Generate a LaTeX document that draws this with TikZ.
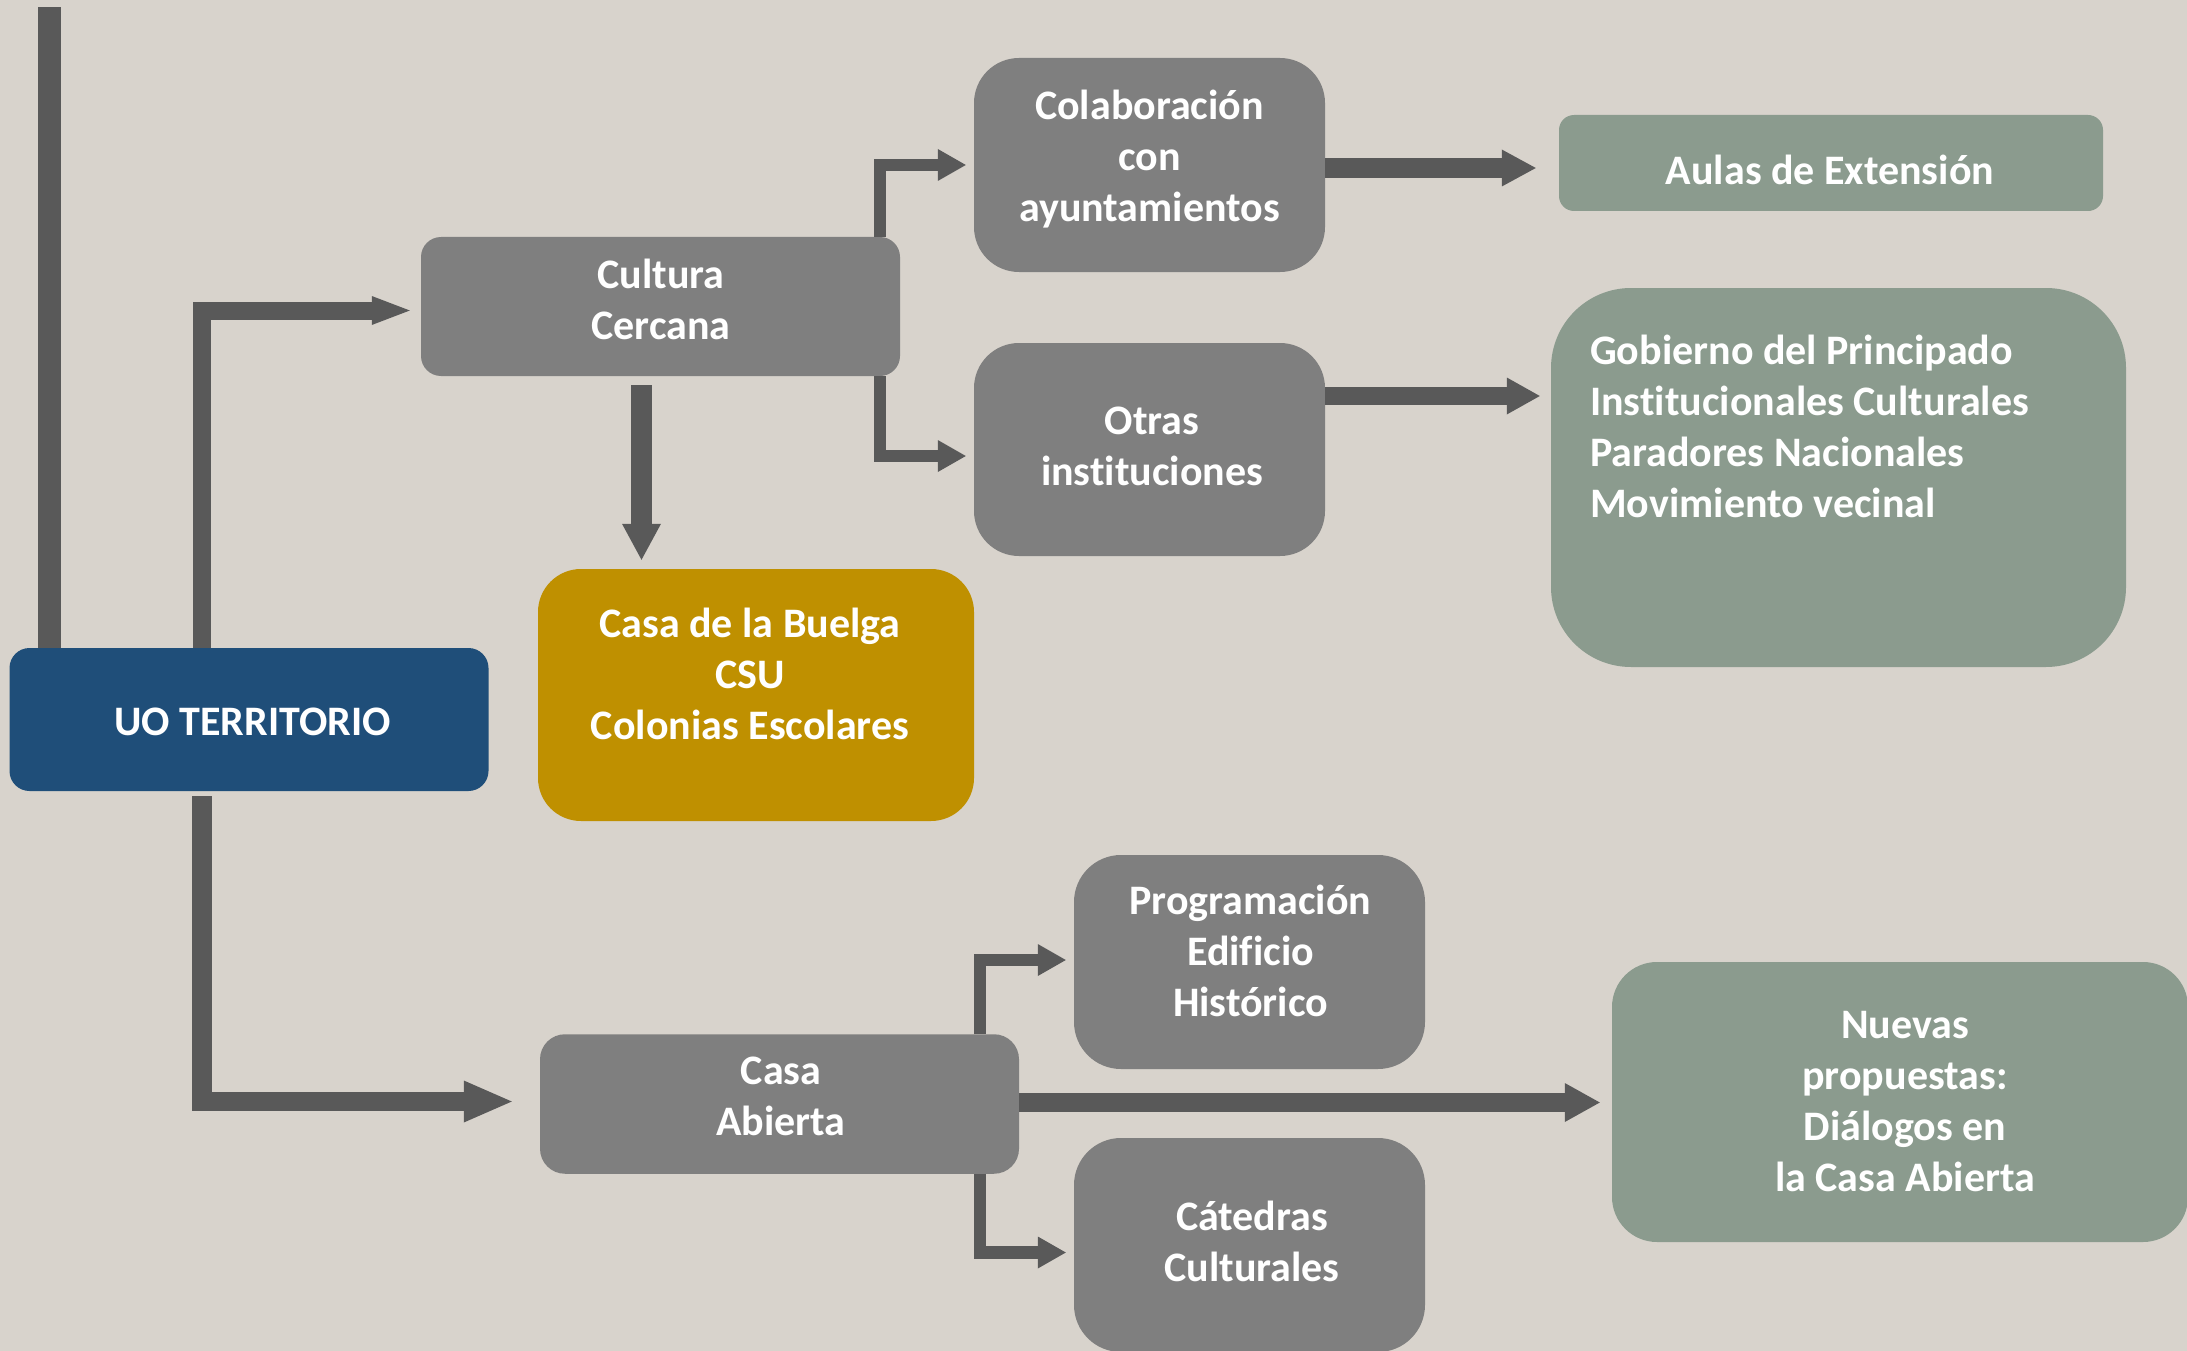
\documentclass[tikz,border=0pt]{standalone}
\usepackage{fontspec}
\setmainfont{Carlito}[Ligatures={NoCommon,NoContextual}]
\usetikzlibrary{arrows.meta}
\definecolor{bg}{HTML}{D8D3CC}
\definecolor{arr}{HTML}{595959}
\definecolor{boxgray}{HTML}{7F7F7F}
\definecolor{uoblue}{HTML}{1F4E79}
\definecolor{gold}{HTML}{BF9000}
\definecolor{sage}{HTML}{8B9B8E}
\newcommand{\topstrut}{\rule{0pt}{32pt}}
\begin{document}
\begin{tikzpicture}[x=1pt,y=-1pt,
  box/.style={rectangle, draw=none, inner sep=0pt},
  lbl/.style={text=white, font=\fontsize{42}{51}\selectfont\bfseries, align=center, inner sep=0pt, anchor=north},
  conn/.style={draw=arr, line join=miter},
  small/.style={conn, line width=12.5pt, -{Triangle[length=28pt,width=32pt,line width=0pt]}, shorten >=8pt}]
\useasboundingbox (0,0) rectangle (2187,1351);
\clip (0,0) rectangle (2187,1351);
\fill[bg] (0,0) rectangle (2187,1351);

% boxes
\node[box, fill=uoblue, minimum width=479pt, minimum height=143pt, rounded corners=20pt] (uo) at (249,719.5) {};
\node[box, fill=boxgray, minimum width=479pt, minimum height=139pt, rounded corners=20pt] (cult) at (660.5,306.5) {};
\node[box, fill=gold, minimum width=436pt, minimum height=252pt, rounded corners=43pt] (buelga) at (756,695) {};
\node[box, fill=boxgray, minimum width=351pt, minimum height=214pt, rounded corners=45pt] (colab) at (1149.5,165) {};
\node[box, fill=boxgray, minimum width=351pt, minimum height=213pt, rounded corners=45pt] (otras) at (1149.5,449.5) {};
\node[box, fill=sage, minimum width=544pt, minimum height=96pt, rounded corners=15pt] (aulas) at (1831,163) {};
\node[box, fill=sage, minimum width=575pt, minimum height=379pt, rounded corners=80pt] (gob) at (1838.5,477.5) {};
\node[box, fill=boxgray, minimum width=479pt, minimum height=139.5pt, rounded corners=25pt] (casa) at (779.5,1104) {};
\node[box, fill=boxgray, minimum width=351pt, minimum height=214pt, rounded corners=47pt] (prog) at (1249.5,962) {};
\node[box, fill=boxgray, minimum width=351pt, minimum height=214pt, rounded corners=47pt] (cat) at (1249.5,1245) {};
\node[box, fill=sage, minimum width=576pt, minimum height=280pt, rounded corners=45pt] (nuevas) at (1900,1102) {};

% texts
\node[lbl] (uotxt) at (252.5,703.5) {\topstrut UO TERRITORIO};
\node[lbl] (culttxt) at (661,256.5) {\topstrut Cultura\\Cercana};
\node[lbl] (buelgatxt) at (750,605) {\topstrut Casa de la Buelga\\CSU\\Colonias Escolares};
\node[lbl] (colabtxt) at (1149.5,87) {\topstrut Colaboración\\con\\ayuntamientos};
\node[lbl] (otrastxt) at (1152,402) {\topstrut Otras\\instituciones};
\node[lbl] (aulastxt) at (1830,152) {\topstrut Aulas de Extensión};
\node[lbl, align=left, anchor=north west] (gobtxt) at (1590,332) {\topstrut Gobierno del Principado\\Institucionales Culturales\\Paradores Nacionales\\Movimiento vecinal};
\node[lbl] (casatxt) at (781,1052) {\topstrut Casa\\Abierta};
\node[lbl] (progtxt) at (1250.5,882) {\topstrut Programación\\Edificio\\Histórico};
\node[lbl] (cattxt) at (1252,1198) {\topstrut Cátedras\\Culturales};
\node[lbl] (nuevastxt) at (1905,1006) {\topstrut Nuevas\\propuestas:\\Diálogos en\\la Casa Abierta};

% connectors
\coordinate (bartop) at (49.5,7);
\draw[conn, line width=23pt] ([xshift=-199.5pt]uo.north) -- (bartop);
\draw[conn, line width=18pt, -{Triangle[length=38pt,width=29pt,line width=0pt]}] ([xshift=-47pt]uo.north) |- ([xshift=-11pt,yshift=-4pt]cult.west);
\draw[conn, line width=21pt, -{Triangle[length=36pt,width=39pt,line width=0pt]}, shorten >=9pt] ([xshift=-19pt,yshift=-9pt]cult.south) coordinate (d0) -- (d0 |- buelga.north);
\draw[small] ([xshift=219.5pt]cult.north) |- (colab.west);
\draw[small] ([xshift=219.5pt]cult.south) |- ([yshift=-6.5pt]otras.west);
\draw[conn, line width=19.5pt, -{Triangle[length=34pt,width=37pt,line width=0pt]}, shorten >=23pt] ([yshift=-3pt]colab.east) coordinate (a0) -- (aulas.west |- a0);
\draw[conn, line width=18pt, -{Triangle[length=33pt,width=37pt,line width=0pt]}, shorten >=11pt] ([yshift=53.5pt]otras.east) coordinate (o0) -- (gob.west |- o0);
\draw[conn, line width=19.5pt, -{Triangle[length=48pt,width=42pt,line width=0pt]}, shorten >=28pt] ([xshift=-47pt,yshift=-5pt]uo.south) |- ([yshift=2.5pt]casa.west);
\draw[small] ([xshift=200.5pt]casa.north) |- ([yshift=2pt]prog.west);
\draw[small] ([xshift=200.5pt]casa.south) |- ([yshift=-7.5pt]cat.west);
\draw[conn, line width=19pt, -{Triangle[length=35pt,width=39pt,line width=0pt]}, shorten >=12pt] ([yshift=1.5pt]casa.east) coordinate (c0) -- (nuevas.west |- c0);
\end{tikzpicture}
\end{document}
